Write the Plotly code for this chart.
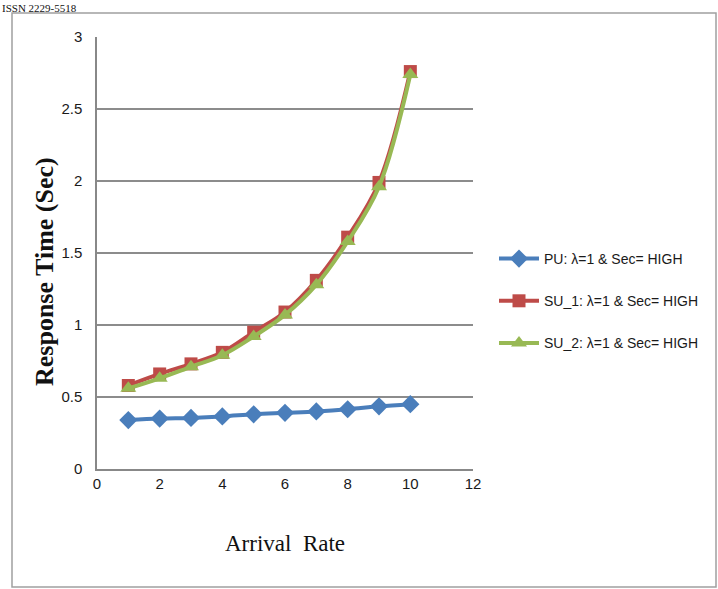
import plotly.graph_objects as go

arrival_rate = [1, 2, 3, 4, 5, 6, 7, 8, 9, 10]
pu = [0.34, 0.35, 0.355, 0.365, 0.38, 0.39, 0.40, 0.415, 0.435, 0.45]
su1 = [0.58, 0.66, 0.73, 0.81, 0.95, 1.09, 1.31, 1.61, 1.99, 2.76]
su2 = [0.56, 0.63, 0.71, 0.79, 0.92, 1.07, 1.28, 1.58, 1.96, 2.74]
names = ["PU: λ=1 & Sec= HIGH", "SU_1: λ=1 & Sec= HIGH", "SU_2: λ=1 & Sec= HIGH"]

fig = go.Figure()
fig.add_trace(go.Scatter(x=arrival_rate, y=pu, name=names[0], mode="lines+markers", legendgroup="a",
                         line=dict(color="#4a7ebb", width=4, shape="spline"),
                         marker=dict(symbol="diamond", size=14, color="#4a7ebb")))
fig.add_trace(go.Scatter(x=arrival_rate, y=su1, name=names[1], mode="lines+markers", legendgroup="b",
                         line=dict(color="#be4b48", width=4, shape="spline"),
                         marker=dict(symbol="square", size=13, color="#be4b48")))
fig.add_trace(go.Scatter(x=arrival_rate, y=su2, name=names[2], mode="lines+markers", legendgroup="c",
                         line=dict(color="#98b954", width=4, shape="spline"),
                         marker=dict(symbol="triangle-up", size=14, color="#98b954")))

W, H = 718, 589
L, R, T, B = 97, 245, 37, 120
pw, ph = W - L - R, H - T - B

def px(x):
    return (x - L) / pw

def py(y):
    return 1 - (y - T) / ph

fig.update_layout(
    width=W, height=H,
    margin=dict(l=L, r=R, t=T, b=B, autoexpand=False),
    paper_bgcolor="white", plot_bgcolor="white",
    showlegend=True,
    legend=dict(x=px(494), y=py(243), xanchor="left", yanchor="top",
                font=dict(family="Liberation Sans Narrow, Liberation Sans, Arial", size=14, color="#1a1a1a"),
                tracegroupgap=21, itemwidth=40, bgcolor="rgba(0,0,0,0)"),
    xaxis=dict(range=[0, 12], dtick=2, showgrid=False, showline=True, linecolor="#888",
               linewidth=1.5, ticks="", tickfont=dict(family="Liberation Sans", size=15, color="#1a1a1a"),
               zeroline=False, ticklen=0),
    yaxis=dict(range=[0, 3], dtick=0.5, showgrid=True, gridcolor="#8c8c8c", gridwidth=1.5,
               showline=True, linecolor="#888", linewidth=1.5, zeroline=False,
               tickfont=dict(family="Liberation Sans", size=15, color="#1a1a1a"), ticks="",
               ticklabelstandoff=10),
)

fig.add_annotation(text="<b>Response Time (Sec)</b>", xref="paper", yref="paper",
                   x=px(44), y=py(272), xanchor="center", yanchor="middle", textangle=-90, showarrow=False,
                   font=dict(family="Liberation Serif", size=26, color="#111"))
fig.add_annotation(text="Arrival  Rate", xref="paper", yref="paper",
                   x=px(285), y=py(543), xanchor="center", yanchor="middle", showarrow=False,
                   font=dict(family="Liberation Serif", size=23, color="#111"))
fig.add_annotation(text="ISSN 2229-5518", xref="paper", yref="paper",
                   x=px(0), y=py(0), xanchor="left", yanchor="top", showarrow=False,
                   font=dict(family="Liberation Serif", size=11, color="#111"))

fig.add_shape(type="rect", xref="paper", yref="paper",
              x0=px(12), x1=px(716), y0=py(13), y1=py(587),
              line=dict(color="#a0a0a0", width=1.5), layer="below")

fig.write_html("out.html")
